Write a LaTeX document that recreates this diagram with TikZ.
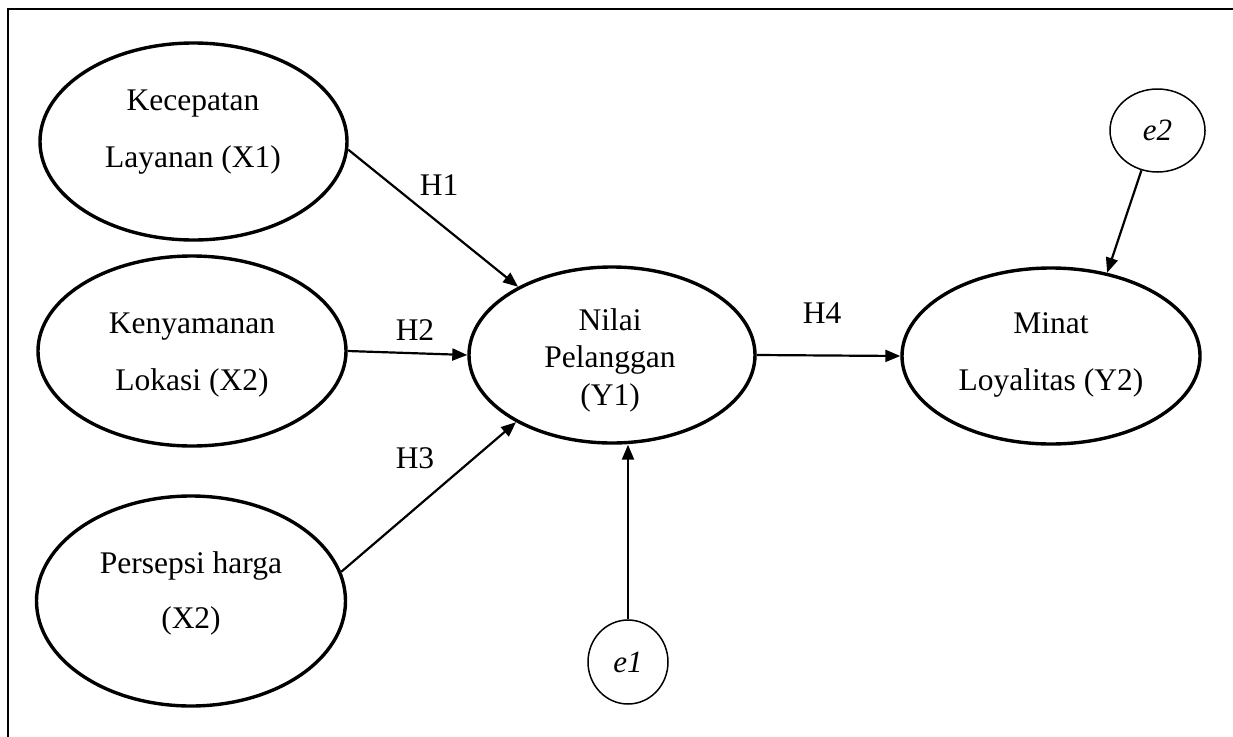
\documentclass[tikz,border=0pt]{standalone}
\usepackage{fontspec}
\setmainfont{Liberation Serif}
\usetikzlibrary{shapes.geometric,arrows.meta}

\tikzset{
  latent/.style={ellipse, draw, line width=3.4pt, inner sep=0pt, fill=white},
  errterm/.style={ellipse, draw, line width=1.5pt, inner sep=0pt, fill=white,
                  font=\fontsize{31}{36}\selectfont\itshape},
  txt/.style={anchor=base, inner sep=0pt, font=\fontsize{31.5}{36}\selectfont},
  path/.style={line width=2.2pt, -{Triangle[length=15pt,width=12pt]}},
  frame/.style={line width=2pt}
}

\begin{document}
\begin{tikzpicture}[x=1pt,y=-1pt]
\useasboundingbox (0,0) rectangle (1233,736);

% open frame: top and left sides only
\draw[frame] (8,760) -- (8,9) -- (1260,9);

% latent variables
\node[latent, minimum width=307pt, minimum height=197pt] (X1) at (193.5,141.5) {};
\node[latent, minimum width=308pt, minimum height=190pt] (X2) at (192,351) {};
\node[latent, minimum width=309pt, minimum height=210pt] (X3) at (191,601) {};
\node[latent, minimum width=286pt, minimum height=176pt] (Y1) at (612,355) {};
\node[latent, minimum width=298pt, minimum height=176pt] (Y2) at (1051,356) {};

% error terms
\node[errterm, minimum width=80pt, minimum height=84pt] (e1) at (628,662) {e1};
\node[errterm, minimum width=95pt, minimum height=83pt] (e2) at (1157.5,130.5) {e2};

% variable names
\node[txt] (tx1a) at (193,110) {Kecepatan};
\node[txt] (tx1b) at (193,167) {Layanan (X1)};
\node[txt] (tx2a) at (192,333) {Kenyamanan};
\node[txt] (tx2b) at (192,390) {Lokasi (X2)};
\node[txt] (tx3a) at (191,573) {Persepsi harga};
\node[txt] (tx3b) at (191,628) {(X2)};
\node[txt] (ty1a) at (610,330) {Nilai};
\node[txt] (ty1b) at (610,367) {Pelanggan};
\node[txt] (ty1c) at (610,405) {(Y1)};
\node[txt] (ty2a) at (1051,333) {Minat};
\node[txt] (ty2b) at (1051,390) {Loyalitas (Y2)};

% hypothesised paths
\draw[path] (X1.-3) -- (Y1.144);
\draw[path] (X2.east) -- (Y1.west);
\draw[path] (X3.11) -- (Y1.215);
\draw[path] (Y1.east) -- (Y2.west);
\draw[path] (e1.north) -- (e1.north |- Y1.south);
\draw[path] (e2.248) -- (Y2.56);

% path labels
\node[txt] (h1) at (439,195) {H1};
\node[txt] (h2) at (415,340) {H2};
\node[txt] (h3) at (415,468) {H3};
\node[txt] (h4) at (822,323) {H4};
\end{tikzpicture}
\end{document}
